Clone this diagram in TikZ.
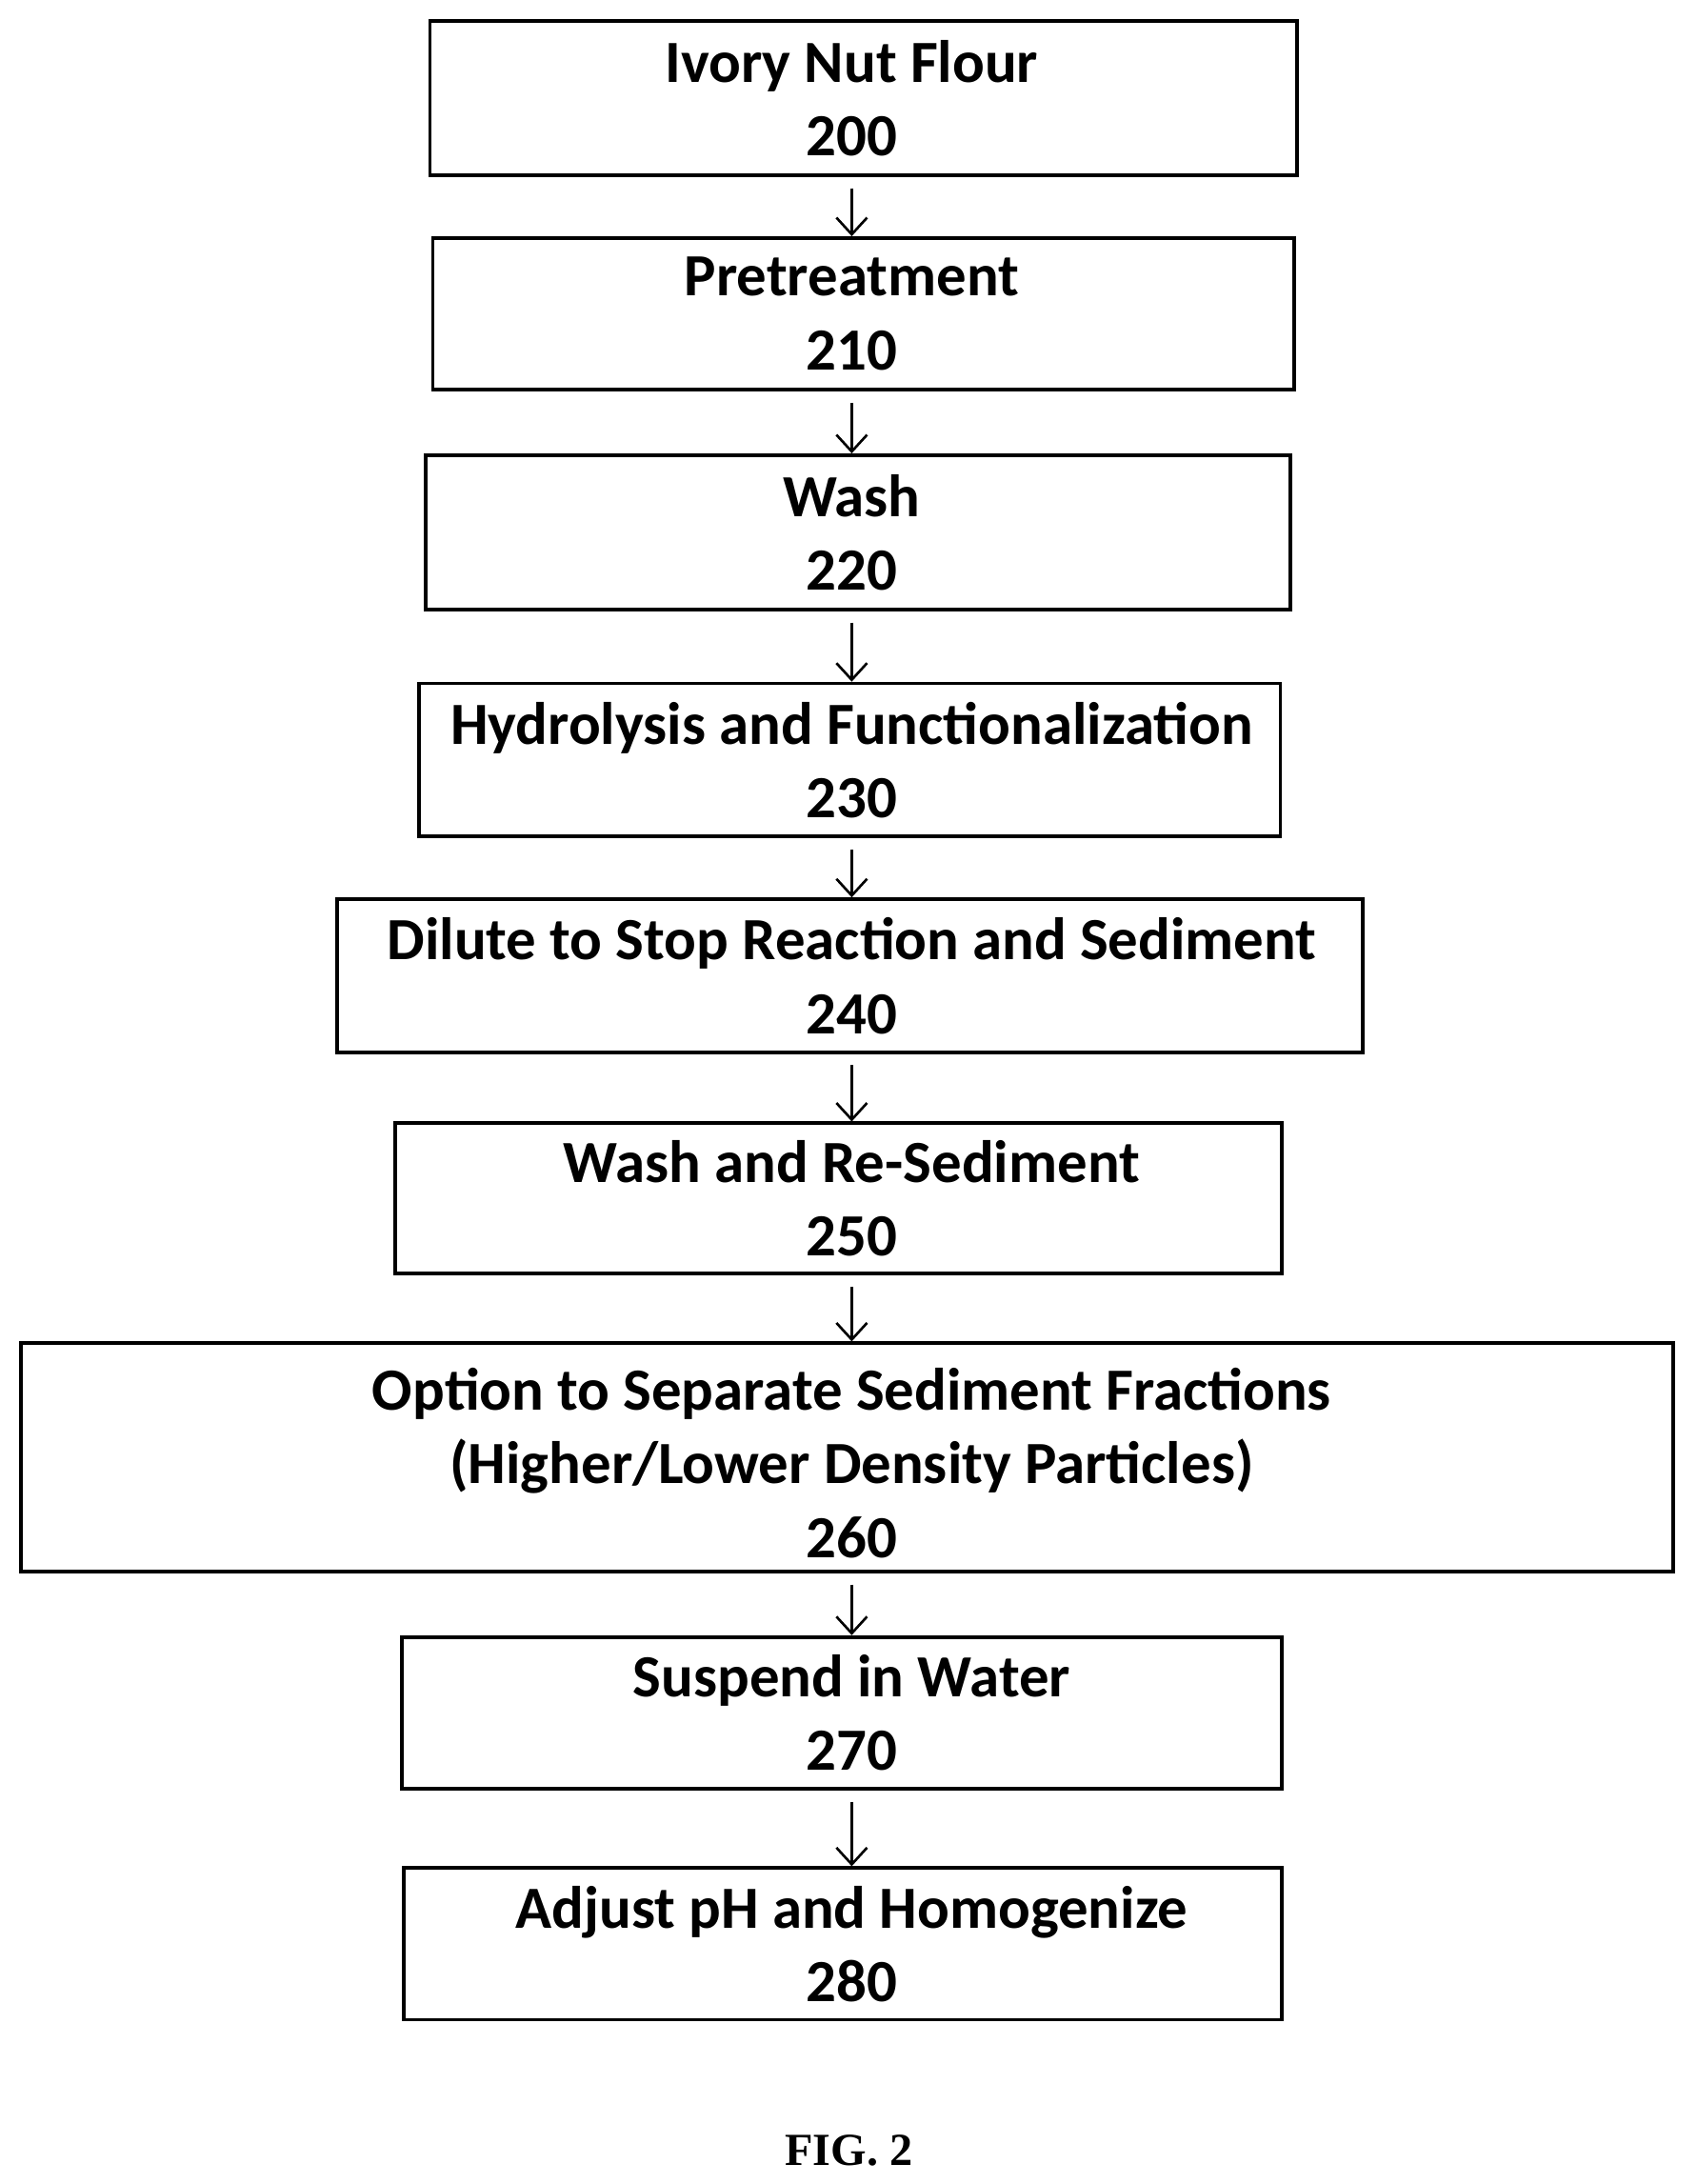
\documentclass[tikz,border=0pt]{standalone}
\usepackage{fontspec}
\setmainfont{Carlito}
\newfontfamily\figfont{Liberation Serif}
\usetikzlibrary{arrows.meta}
\begin{document}
\begin{tikzpicture}[x=1pt,y=-1pt,
  box/.style={draw,line width=2.6pt,inner sep=0pt},
  txt/.style={align=center,font=\fontsize{43}{53}\selectfont\bfseries,inner sep=0pt},
  arr/.style={line width=1.8pt,-{Straight Barb[length=12pt,width=22pt,line width=1.8pt]}}]
\useasboundingbox (0,0) rectangle (1219,1569);
\coordinate (ax) at (612,0);
\foreach \n/\xa/\xb/\ya/\yb in {1/309/932/15/126,2/311/930/171/280,3/306/927/327/438,4/301/920/491/601,5/242/979/646/756,6/284/921/807/915,7/15/1202/965/1129,8/289/921/1176/1285,9/290/921/1342/1451}{
  \node[box,minimum width={\xb-\xa},minimum height={\yb-\ya}] (b\n) at ({(\xa+\xb)/2},{(\ya+\yb)/2}) {};
}
\node[txt] (t1) at (ax|-b1.center) {Ivory Nut Flour\\200};
\node[txt] (t2) at (ax|-b2.center) {Pretreatment\\210};
\node[txt] (t3) at (ax|-b3.center) {Wash\\220};
\node[txt] (t4) at (ax|-b4.center) {Hydrolysis and Functionalization\\230};
\node[txt] (t5) at (ax|-b5.center) {Dilute to Stop Reaction and Sediment\\240};
\node[txt] (t6) at (ax|-b6.center) {Wash and Re-Sediment\\250};
\node[txt] (t7) at (612,1051) {Option to Separate Sediment Fractions\\(Higher/Lower Density Particles)\\260};
\node[txt] (t8) at (ax|-b8.center) {Suspend in Water\\270};
\node[txt] (t9) at (ax|-b9.center) {Adjust pH and Homogenize\\280};
\foreach \a/\b in {1/2,2/3,3/4,4/5,5/6,6/7,7/8,8/9}{
  \draw[arr] (ax|-b\a.south) ++(0,8) -- (ax|-b\b.north);
}
\node[font=\figfont\fontsize{33}{38}\selectfont\bfseries] (fig) at (610,1545) {FIG. 2};
\end{tikzpicture}
\end{document}
